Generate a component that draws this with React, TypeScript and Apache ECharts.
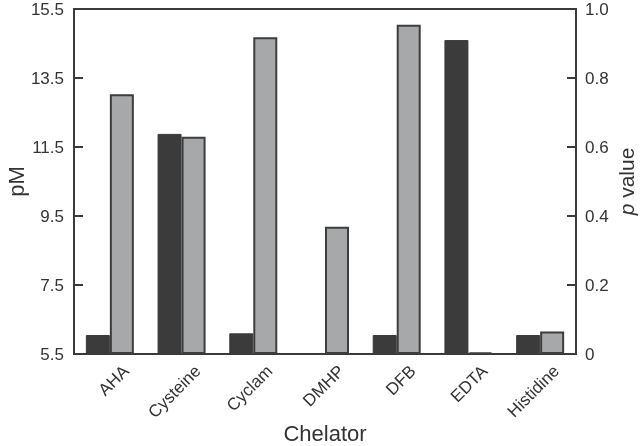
import React, { useEffect, useRef } from "react";
import * as echarts from "echarts";

const categories = ["AHA", "Cysteine", "Cyclam", "DMHP", "DFB", "EDTA", "Histidine"];
const pMValues: (number | null)[] = [6.05, 11.88, 6.1, null, 6.05, 14.6, 6.05];
const pValues: number[] = [0.753, 0.63, 0.918, 0.369, 0.954, 0.005, 0.065];
const pMTicks = [5.5, 7.5, 9.5, 11.5, 13.5, 15.5];
const pTicks = [0, 0.2, 0.4, 0.6, 0.8, 1.0];

const PM_BASE = pMTicks[0];
const AX = "#3a3a3a";
const TXT = "#333";
const FONT = "'Liberation Sans', Arial, sans-serif";

export default function App() {
  const ref = useRef<HTMLDivElement>(null);
  useEffect(() => {
    if (!ref.current) return;
    const chart = echarts.init(ref.current, null, { renderer: "svg" });
    chart.setOption({
      animation: false,
      textStyle: { fontFamily: FONT },
      grid: {
        left: 74,
        right: 64,
        top: 9,
        bottom: 92,
        show: true,
        borderColor: AX,
        borderWidth: 2,
        containLabel: false,
        outerBoundsMode: "none",
      },
      xAxis: {
        type: "category",
        data: categories,
        axisLine: { lineStyle: { color: AX, width: 2 } },
        axisTick: { show: false },
        axisLabel: {
          rotate: 45,
          interval: 0,
          color: TXT,
          fontSize: 17,
          fontFamily: FONT,
          margin: -2,
          verticalAlign: "top",
          lineHeight: 46,
        },
        name: "Chelator",
        nameLocation: "middle",
        nameGap: 68,
        nameMoveOverlap: false,
        nameTextStyle: { color: TXT, fontSize: 22, fontFamily: FONT },
      },
      yAxis: [
        {
          type: "value",
          position: "left",
          min: 0,
          max: pMTicks[pMTicks.length - 1] - PM_BASE,
          interval: 2,
          axisLine: { show: true, lineStyle: { color: AX, width: 2 } },
          axisTick: { show: true, inside: true, length: 9, lineStyle: { color: AX, width: 2 } },
          splitLine: { show: false },
          axisLabel: {
            color: TXT,
            fontSize: 17,
            fontFamily: FONT,
            margin: 10,
            formatter: (v: number) => (v + PM_BASE).toFixed(1),
          },
          name: "pM",
          nameLocation: "middle",
          nameGap: 47,
          nameMoveOverlap: false,
          nameRotate: 90,
          nameTextStyle: { color: TXT, fontSize: 22, fontFamily: FONT },
        },
        {
          type: "value",
          position: "right",
          min: pTicks[0],
          max: pTicks[pTicks.length - 1],
          interval: 0.2,
          axisLine: { show: true, lineStyle: { color: AX, width: 2 } },
          axisTick: { show: true, inside: true, length: 9, lineStyle: { color: AX, width: 2 } },
          splitLine: { show: false },
          axisLabel: {
            color: TXT,
            fontSize: 17,
            fontFamily: FONT,
            margin: 9,
            formatter: (v: number) => (v === 0 ? "0" : v.toFixed(1)),
          },
          name: "{i|p} value",
          nameLocation: "middle",
          nameGap: 40,
          nameMoveOverlap: false,
          nameRotate: 90,
          nameTextStyle: {
            color: TXT,
            fontSize: 21,
            fontFamily: FONT,
            rich: { i: { fontStyle: "italic", fontSize: 21, color: TXT, fontFamily: FONT } },
          },
        },
      ],
      series: [
        {
          type: "bar",
          yAxisIndex: 0,
          data: pMValues.map((v) => (v === null ? null : v - PM_BASE)),
          barWidth: 24,
          barGap: "0%",
          itemStyle: { color: "#3b3b3b", borderColor: "#3b3b3b", borderWidth: 1 },
        },
        {
          type: "bar",
          yAxisIndex: 1,
          data: pValues,
          barWidth: 24,
          barGap: "0%",
          itemStyle: { color: "#a7a8aa", borderColor: "#3d3d3d", borderWidth: 2 },
        },
      ],
    });
    return () => chart.dispose();
  }, []);
  return (
    <div
      ref={ref}
      style={{ position: "fixed", left: 0, top: 0, width: 640, height: 446 }}
    />
  );
}
